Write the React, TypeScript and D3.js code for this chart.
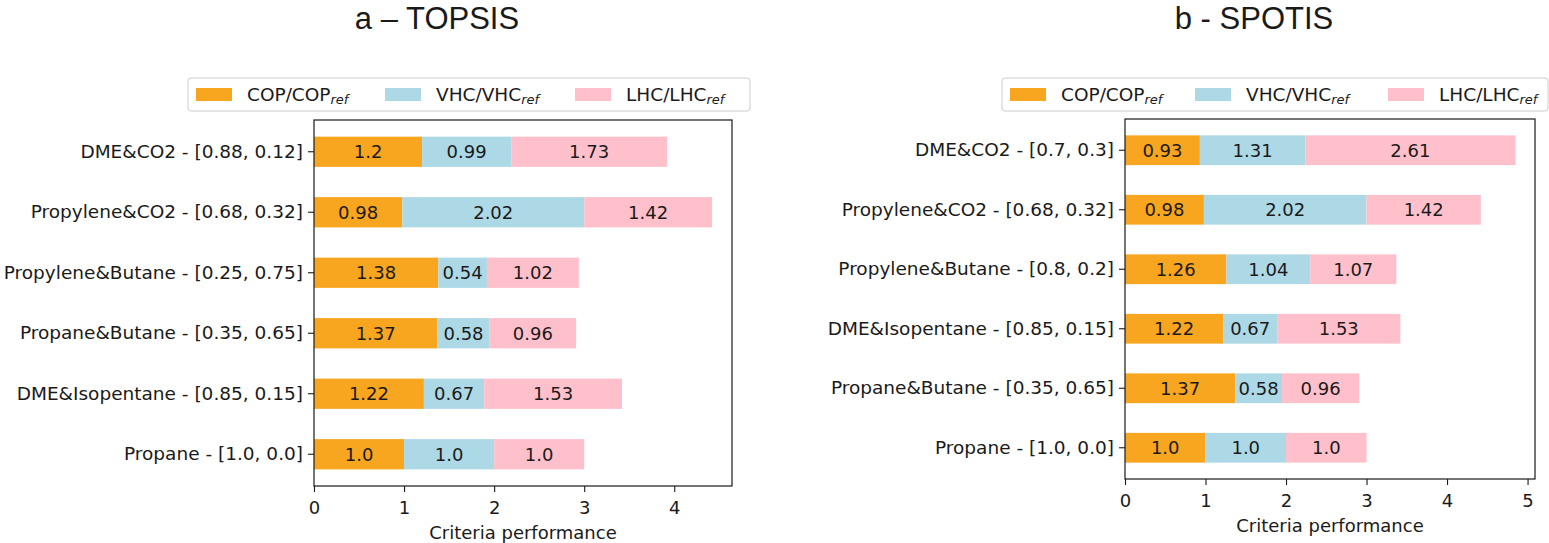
import { useEffect, useRef } from 'react'
import * as d3 from 'd3'

// series + colours
const seriesKeys = ['COP/COP', 'VHC/VHC', 'LHC/LHC']
const seriesColors = ['#f8a51f', '#add8e6', '#ffc0cb']

// panel a - TOPSIS (top to bottom)
const topsisLabels = [
  'DME&CO2 - [0.88, 0.12]',
  'Propylene&CO2 - [0.68, 0.32]',
  'Propylene&Butane - [0.25, 0.75]',
  'Propane&Butane - [0.35, 0.65]',
  'DME&Isopentane - [0.85, 0.15]',
  'Propane - [1.0, 0.0]'
]
const topsisCop = [1.2, 0.98, 1.38, 1.37, 1.22, 1.0]
const topsisVhc = [0.99, 2.02, 0.54, 0.58, 0.67, 1.0]
const topsisLhc = [1.73, 1.42, 1.02, 0.96, 1.53, 1.0]
const topsisTicks = [0, 1, 2, 3, 4]

// panel b - SPOTIS (top to bottom)
const spotisLabels = [
  'DME&CO2 - [0.7, 0.3]',
  'Propylene&CO2 - [0.68, 0.32]',
  'Propylene&Butane - [0.8, 0.2]',
  'DME&Isopentane - [0.85, 0.15]',
  'Propane&Butane - [0.35, 0.65]',
  'Propane - [1.0, 0.0]'
]
const spotisCop = [0.93, 0.98, 1.26, 1.22, 1.37, 1.0]
const spotisVhc = [1.31, 2.02, 1.04, 0.67, 0.58, 1.0]
const spotisLhc = [2.61, 1.42, 1.07, 1.53, 0.96, 1.0]
const spotisTicks = [0, 1, 2, 3, 4, 5]

const W = 1549
const H = 543
const FONT = 'DejaVu Sans, sans-serif'
const INK = '#1a1a1a'

interface PanelSpec {
  title: string
  titleX: number
  labels: string[]
  series: number[][]
  ticks: number[]
  box: { left: number; right: number; top: number; bottom: number }
  legend: { x: number; w: number; items: number[] }
}

const panels: PanelSpec[] = [
  {
    title: 'a \u2013 TOPSIS',
    titleX: 437,
    labels: topsisLabels,
    series: [topsisCop, topsisVhc, topsisLhc],
    ticks: topsisTicks,
    box: { left: 314, right: 732, top: 120, bottom: 486 },
    legend: { x: 188, w: 562, items: [8, 197, 387] }
  },
  {
    title: 'b - SPOTIS',
    titleX: 1254,
    labels: spotisLabels,
    series: [spotisCop, spotisVhc, spotisLhc],
    ticks: spotisTicks,
    box: { left: 1125, right: 1535, top: 119, bottom: 479 },
    legend: { x: 1002, w: 546, items: [8, 193, 386] }
  }
]

// matplotlib prints 1.0, not 1
const fmtValue = (v: number) => (Number.isInteger(v) ? v.toFixed(1) : String(v))

function drawPanel(svg: d3.Selection<SVGSVGElement, unknown, null, undefined>, p: PanelSpec) {
  const { box } = p
  const rows = p.labels.map((label, i) => ({
    label,
    values: p.series.map(s => s[i])
  }))
  const maxTotal = d3.max(rows, r => d3.sum(r.values)) || 0

  const x = d3.scaleLinear().domain([0, maxTotal * 1.05]).range([box.left, box.right])
  const y = d3
    .scaleBand()
    .domain(p.labels)
    .range([box.top, box.bottom])
    .paddingInner(0.5)
    .paddingOuter(0.275)

  const g = svg.append('g')

  // title
  g.append('text')
    .attr('x', p.titleX)
    .attr('y', 29)
    .attr('text-anchor', 'middle')
    .attr('font-family', 'Liberation Sans, Arial, sans-serif')
    .attr('font-size', 31)
    .attr('fill', INK)
    .text(p.title)

  // stacked bars
  rows.forEach(r => {
    let acc = 0
    r.values.forEach((v, k) => {
      const x0 = x(acc)
      const x1 = x(acc + v)
      g.append('rect')
        .attr('x', x0)
        .attr('y', y(r.label)!)
        .attr('width', x1 - x0)
        .attr('height', y.bandwidth())
        .attr('fill', seriesColors[k])
      g.append('text')
        .attr('x', (x0 + x1) / 2)
        .attr('y', y(r.label)! + y.bandwidth() / 2)
        .attr('dy', '0.36em')
        .attr('text-anchor', 'middle')
        .attr('font-family', FONT)
        .attr('font-size', 18)
        .attr('fill', INK)
        .text(fmtValue(v))
      acc += v
    })
  })

  // y axis
  const yAxis = g
    .append('g')
    .attr('transform', `translate(${box.left},0)`)
    .call(d3.axisLeft(y).tickSize(6).tickPadding(5))
  yAxis.select('.domain').remove()
  yAxis.selectAll('text').attr('font-family', FONT).attr('font-size', 18.5).attr('fill', INK)
  yAxis.selectAll('line').attr('stroke', INK).attr('stroke-width', 1.1)

  // x axis
  const xAxis = g
    .append('g')
    .attr('transform', `translate(0,${box.bottom})`)
    .call(d3.axisBottom(x).tickValues(p.ticks).tickFormat(d3.format('d')).tickSize(6).tickPadding(9))
  xAxis.select('.domain').remove()
  xAxis.selectAll('text').attr('font-family', FONT).attr('font-size', 18).attr('fill', INK)
  xAxis.selectAll('line').attr('stroke', INK).attr('stroke-width', 1.1)

  // frame
  g.append('rect')
    .attr('x', box.left)
    .attr('y', box.top)
    .attr('width', box.right - box.left)
    .attr('height', box.bottom - box.top)
    .attr('fill', 'none')
    .attr('stroke', INK)
    .attr('stroke-width', 1.2)

  g.append('text')
    .attr('x', (box.left + box.right) / 2)
    .attr('y', box.bottom + 53)
    .attr('text-anchor', 'middle')
    .attr('font-family', FONT)
    .attr('font-size', 18)
    .attr('fill', INK)
    .text('Criteria performance')

  // legend
  const lg = g.append('g').attr('transform', `translate(${p.legend.x},78)`)
  lg.append('rect')
    .attr('width', p.legend.w)
    .attr('height', 33)
    .attr('rx', 3)
    .attr('fill', '#fff')
    .attr('stroke', '#cccccc')
    .attr('stroke-width', 1)
  seriesKeys.forEach((key, k) => {
    const ox = p.legend.items[k]
    lg.append('rect')
      .attr('x', ox)
      .attr('y', 10)
      .attr('width', 36)
      .attr('height', 13)
      .attr('fill', seriesColors[k])
    const t = lg
      .append('text')
      .attr('x', ox + 51)
      .attr('y', 23)
      .attr('font-family', FONT)
      .attr('font-size', 18.5)
      .attr('fill', INK)
    t.append('tspan').text(key)
    t.append('tspan')
      .attr('font-size', 13)
      .attr('font-style', 'italic')
      .attr('dy', 3)
      .text('ref')
  })
}

export default function App() {
  const svgRef = useRef<SVGSVGElement>(null)

  useEffect(() => {
    if (!svgRef.current) return
    const svg = d3.select(svgRef.current)
    svg.selectAll('*').remove()
    panels.forEach(p => drawPanel(svg, p))
  }, [])

  return (
    <svg
      ref={svgRef}
      width={W}
      height={H}
      style={{ position: 'absolute', left: 0, top: 0, background: '#fff' }}
    />
  )
}
